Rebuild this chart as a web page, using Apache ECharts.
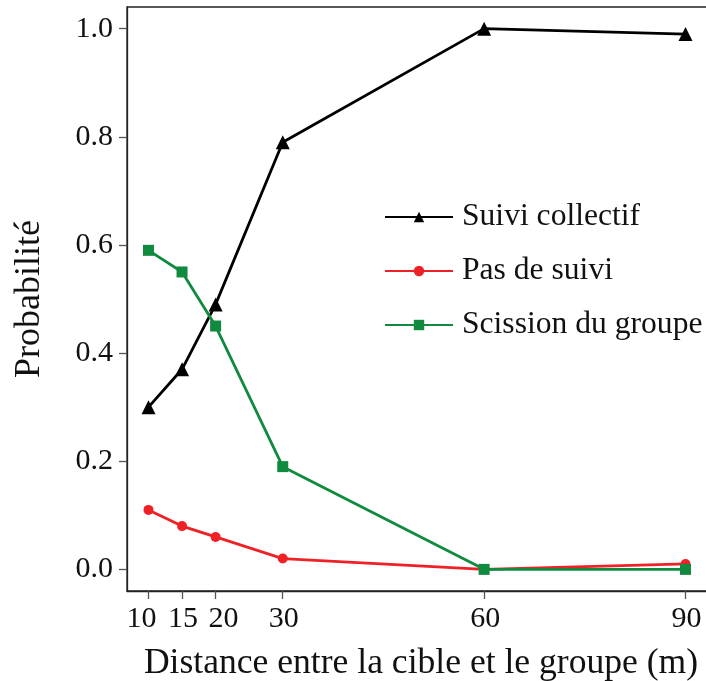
<!DOCTYPE html>
<html>
<head>
<meta charset="utf-8">
<script src="https://cdn.jsdelivr.net/npm/echarts@6/dist/echarts.min.js"></script>
<style>html,body{margin:0;padding:0;background:#fff}#c{width:706px;height:681px}</style>
</head>
<body>
<div id="c"></div>
<script>
const distances = [10, 15, 20, 30, 60, 90];
const suiviCollectif = [0.30, 0.37, 0.49, 0.79, 1.00, 0.99];
const pasDeSuivi = [0.11, 0.08, 0.06, 0.02, 0.00, 0.01];
const scission = [0.59, 0.55, 0.45, 0.19, 0.00, 0.00];
const yTicks = [0, 0.2, 0.4, 0.6, 0.8, 1.0];
const seriesNames = ['Suivi collectif', 'Pas de suivi', 'Scission du groupe'];

const FONT = 'Liberation Serif';
const pair = arr => distances.map((d, i) => [d, arr[i]]);
// label nudges so crowded tick labels (10, 15, 20) do not touch
const labelStyle = v => (v === 10 ? 'l' : v === 20 ? 'r' : 'c');

const chart = echarts.init(document.getElementById('c'), null, {renderer: 'canvas'});
chart.setOption({
  animation: false,
  backgroundColor: '#fff',
  grid: {left: 127, top: 7, width: 580, height: 584, show: true, borderColor: '#222', borderWidth: 1.3,
    backgroundColor: 'transparent', outerBoundsMode: 'none', containLabel: false},
  legend: {
    orient: 'vertical', left: 379, top: 196, itemWidth: 68, itemHeight: 13, itemGap: 22,
    textStyle: {fontFamily: FONT, fontSize: 31.6, color: '#111', padding: [0, 0, 0, 4]},
    data: seriesNames
  },
  xAxis: {
    type: 'value', min: 6.8, max: 93.2,
    name: 'Distance entre la cible et le groupe (m)', nameLocation: 'middle', nameGap: 55,
    nameTextStyle: {fontFamily: FONT, fontSize: 35.6, color: '#111', padding: [0, 0, 0, 8]},
    axisLine: {show: true, onZero: false, lineStyle: {color: '#222', width: 1.3}},
    axisTick: {show: true, length: 8, customValues: distances, lineStyle: {color: '#555', width: 1.3}},
    axisLabel: {customValues: distances, fontFamily: FONT, fontSize: 30, color: '#111', margin: 13,
      formatter: v => '{' + labelStyle(v) + '|' + v + '}',
      rich: {
        l: {fontFamily: FONT, fontSize: 30, color: '#111', padding: [0, 14, 0, 0]},
        r: {fontFamily: FONT, fontSize: 30, color: '#111', padding: [0, 0, 0, 16]},
        c: {fontFamily: FONT, fontSize: 30, color: '#111', padding: [0, 0, 0, 2]}
      }},
    splitLine: {show: false}
  },
  yAxis: {
    type: 'value', min: -0.04, max: 1.04,
    name: 'Probabilité', nameLocation: 'middle', nameGap: 79, nameRotate: 90,
    nameTextStyle: {fontFamily: FONT, fontSize: 36, color: '#111'},
    axisLine: {show: true, onZero: false, lineStyle: {color: '#222', width: 1.3}},
    axisTick: {show: true, length: 8, customValues: yTicks, lineStyle: {color: '#555', width: 1.3}},
    axisLabel: {customValues: yTicks, fontFamily: FONT, fontSize: 30, color: '#111', margin: 14,
      formatter: v => v.toFixed(1)},
    splitLine: {show: false}
  },
  series: [
    {name: seriesNames[0], type: 'line', data: pair(suiviCollectif), symbol: 'triangle', symbolSize: 14,
      color: '#000', lineStyle: {color: '#000', width: 2.8}, itemStyle: {color: '#000'}},
    {name: seriesNames[1], type: 'line', data: pair(pasDeSuivi), symbol: 'circle', symbolSize: 10,
      color: '#EE2226', lineStyle: {color: '#EE2226', width: 2.8}, itemStyle: {color: '#EE2226'}},
    {name: seriesNames[2], type: 'line', data: pair(scission), symbol: 'rect', symbolSize: 11,
      color: '#108A3E', lineStyle: {color: '#108A3E', width: 2.8}, itemStyle: {color: '#108A3E'}}
  ]
});
</script>
</body>
</html>
